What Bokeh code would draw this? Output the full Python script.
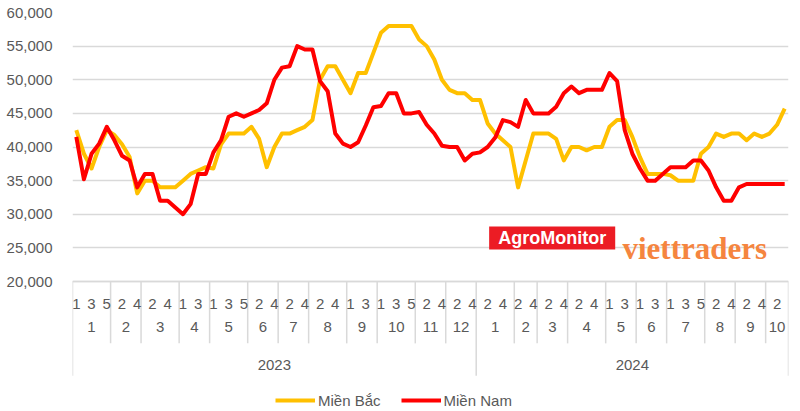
from bokeh.plotting import figure
from bokeh.models import (ColumnDataSource, FactorRange, Range1d, FixedTicker,
                          NumeralTickFormatter, Legend, LegendItem, Label, BoxAnnotation)
from bokeh.embed import file_html
from bokeh.resources import INLINE

# ---------------- data ----------------
years = ["2023", "2024"]
months_2023 = ["1", "2", "3", "4", "5", "6", "7", "8", "9", "10", "11", "12"]
months_2024 = ["1", "2", "3", "4", "5", "6", "7", "8", "9", "10"]

# week tick labels as shown on the axis ("" = week present but label not shown)
week_labels_2023 = [
    ["1", "", "3", "", "5"], ["", "2", "", "4"], ["", "2", "", "4", ""], ["1", "", "3", ""],
    ["1", "", "3", "", "5"], ["", "2", "", "4"], ["", "2", "", "4"], ["", "2", "", "4", ""],
    ["1", "", "3", ""], ["1", "", "3", "", "5"], ["", "2", "", "4"], ["", "2", "", "4"],
]
week_labels_2024 = [
    ["", "2", "", "4", ""], ["2", "", "4"], ["", "2", "", "4"], ["", "2", "", "4", ""],
    ["1", "", "3", ""], ["1", "", "3", ""], ["1", "", "3", "", "5"], ["", "2", "", "4"],
    ["", "2", "", "4"], ["", "2", ""],
]

mien_bac = [
    42500, 39000, 36800, 40000, 42500, 41800, 40400, 38500, 33100, 35000,
    35000, 34000, 34000, 34000, 35000, 36000, 36500, 37000, 36800, 40400,
    42000, 42000, 42000, 43000, 41200, 37000, 40000, 42000, 42000, 42500,
    43000, 44000, 50000, 52000, 52000, 50000, 48000, 51000, 51000, 54000,
    57000, 58000, 58000, 58000, 58000, 56000, 55000, 53000, 50000, 48500,
    48000, 48000, 47000, 47000, 43500, 42000, 41000, 40000, 34000, 38000,
    42000, 42000, 42000, 41200, 38000, 40000, 40000, 39500, 40000, 40000,
    43000, 44000, 44000, 41500, 38500, 36000, 36000, 36000, 35800, 35000,
    35000, 35000, 39000, 40000, 42000, 41500, 42000, 42000, 41000, 42000,
    41500, 42000, 43300, 45700,
]
mien_nam = [
    41500, 35200, 39000, 40500, 43000, 41000, 38700, 38000, 34000, 36000,
    36000, 32000, 32000, 31000, 30000, 31500, 36000, 36000, 39200, 41000,
    44500, 45000, 44500, 45000, 45500, 46500, 50000, 51800, 52000, 55000,
    54500, 54500, 49800, 48300, 42000, 40500, 40000, 40700, 43200, 45900,
    46100, 48000, 48000, 45000, 45000, 45200, 43300, 42000, 40200, 40000,
    40000, 38000, 39000, 39200, 40000, 41400, 44000, 43700, 43000, 47000,
    45000, 45000, 45000, 46000, 48000, 49000, 48000, 48500, 48500, 48500,
    51000, 49800, 42500, 39000, 36800, 35000, 35000, 36000, 37000, 37000,
    37000, 38000, 38000, 36500, 34000, 32000, 32000, 34000, 34500, 34500,
    34500, 34500, 34500, 34500,
]

y_ticks = [20000, 25000, 30000, 35000, 40000, 45000, 50000, 55000, 60000]
series_names = ["Miền Bắc", "Miền Nam"]

# ---------------- factors ----------------
factors = []
month_bounds = []
year_bounds = [0]
for year, months, wlists in [(years[0], months_2023, week_labels_2023),
                             (years[1], months_2024, week_labels_2024)]:
    ylab = "\n" + year   # pushes the year row a little lower, as in the original
    for mi, (m, wl) in enumerate(zip(months, wlists)):
        k = 0
        for w in wl:
            if w == "":
                k += 1
                w = "\u200b" * k
            factors.append((ylab, m, w))
        if mi < len(months) - 1:
            month_bounds.append(len(factors))
    year_bounds.append(len(factors))

src = ColumnDataSource(data=dict(x=factors, bac=mien_bac, nam=mien_nam))

FONT = "Liberation Sans"
GREY = "#595959"
LINE = "#d9d9d9"

p = figure(width=800, height=411,
           x_range=FactorRange(*factors, factor_padding=0, subgroup_padding=0,
                               group_padding=0, range_padding=0),
           y_range=Range1d(670, 60000),
           output_backend="svg", toolbar_location=None,
           min_border_left=72, min_border_right=12, min_border_top=12, min_border_bottom=0)
p.outline_line_color = None
p.background_fill_color = "white"

# y axis
p.yaxis.ticker = FixedTicker(ticks=y_ticks)
p.yaxis.formatter = NumeralTickFormatter(format="0,0")
p.yaxis.axis_line_color = None
p.yaxis.major_tick_line_color = None
p.yaxis.minor_tick_line_color = None
p.yaxis.major_label_text_font = FONT
p.yaxis.major_label_text_font_size = "15px"
p.yaxis.major_label_text_color = GREY
p.yaxis.major_label_standoff = 14
p.ygrid.grid_line_color = LINE
p.ygrid.grid_line_width = 1.5
p.xgrid.visible = False

# x axis (categorical, 3 levels) placed at 20,000
xa = p.xaxis[0]
xa.fixed_location = 20000
xa.axis_line_color = LINE
xa.axis_line_width = 1.5
xa.major_tick_line_color = None
xa.minor_tick_line_color = None
xa.separator_line_color = None
xa.major_label_standoff = 7
xa.major_label_text_font = FONT
xa.major_label_text_font_size = "15px"
xa.major_label_text_color = GREY
xa.subgroup_text_font = FONT
xa.subgroup_text_font_size = "15px"
xa.subgroup_text_font_style = "normal"
xa.subgroup_text_color = GREY
xa.group_text_font = FONT
xa.group_text_font_size = "15px"
xa.group_text_font_style = "normal"
xa.group_text_color = GREY
xa.group_text_line_height = 0.85

# table-like separators under the axis
p.segment(x0=month_bounds, y0=20000, x1=month_bounds, y1=10800,
          line_color=LINE, line_width=1.5)
p.segment(x0=year_bounds, y0=20000, x1=year_bounds, y1=6000,
          line_color=LINE, line_width=1.5)

# series
r_bac = p.line("x", "bac", source=src, line_color="#FFC000", line_width=4, line_join="round")
r_nam = p.line("x", "nam", source=src, line_color="#FF0000", line_width=4, line_join="round")

# watermark logo
p.add_layout(BoxAnnotation(left=54.7, right=71.25, bottom=24760, top=28180,
                           fill_color="#EC1C24", fill_alpha=1, line_alpha=0))
p.add_layout(Label(x=62.97, y=26470, text="AgroMonitor", text_color="white",
                   text_font=FONT, text_font_style="bold", text_font_size="18px",
                   text_align="center", text_baseline="middle"))
p.add_layout(Label(x=72.2, y=24900, text="viettraders", text_color="#F5853F",
                   text_font="Liberation Serif", text_font_style="bold",
                   text_font_size="31px", text_align="left", text_baseline="alphabetic"))

legend = Legend(items=[LegendItem(label=series_names[0], renderers=[r_bac]),
                       LegendItem(label=series_names[1], renderers=[r_nam])],
                orientation="horizontal", location=(203, 2),
                glyph_width=40, glyph_height=18, label_height=18, label_standoff=3,
                spacing=20, padding=0, margin=0,
                label_text_font=FONT, label_text_font_size="15px", label_text_color=GREY,
                border_line_alpha=0, background_fill_alpha=0)
p.add_layout(legend)

open("out.html", "w").write(file_html(p, INLINE))
